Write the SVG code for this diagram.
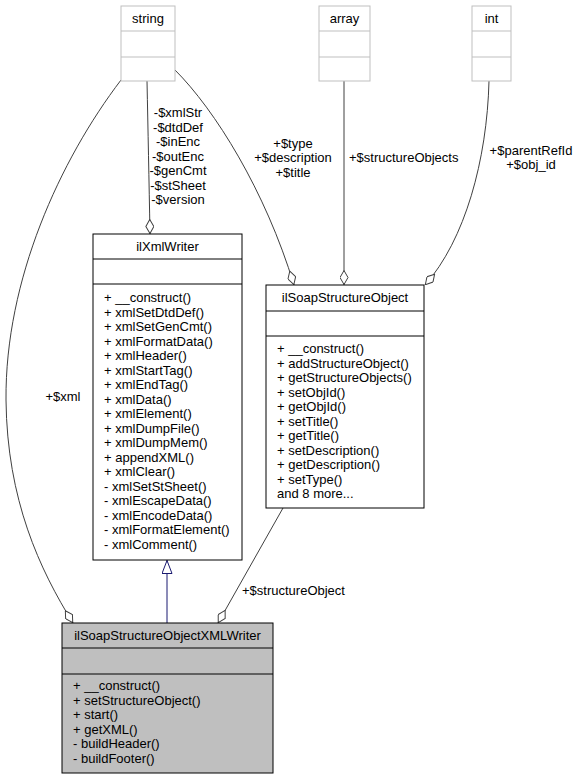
<svg xmlns="http://www.w3.org/2000/svg" width="580" height="779" viewBox="0 0 580 779">
<style>
text{font-family:"Liberation Sans",Arial,sans-serif;font-size:13px;fill:#000}
.c{text-anchor:middle}
.box{fill:#fff;stroke:#000;stroke-width:1}
.ext{fill:#fff;stroke:#bfbfbf;stroke-width:1}
.cur{fill:#bfbfbf;stroke:#000;stroke-width:1}
.e{fill:none;stroke:#404040;stroke-width:1;marker-end:url(#dia)}
.inh{fill:none;stroke:#191970;stroke-width:1;marker-end:url(#tri)}
</style>
<defs>
<marker id="dia" viewBox="0 0 15 9" refX="15" refY="4.5" markerWidth="15" markerHeight="9" markerUnits="userSpaceOnUse" orient="auto">
<path d="M0.5,4.5 L7.5,0.5 L14.5,4.5 L7.5,8.5 Z" fill="#fff" stroke="#404040" stroke-width="1"/>
</marker>
<marker id="tri" viewBox="0 0 14 11" refX="14" refY="5.5" markerWidth="14" markerHeight="11" markerUnits="userSpaceOnUse" orient="auto">
<path d="M0.5,0.5 L13.5,5.5 L0.5,10.5 Z" fill="#fff" stroke="#191970" stroke-width="1"/>
</marker>
</defs>
<g id="connectors">
<path class="e" d="M147,81 C148,130 149,180 150,234"/>
<path class="e" d="M175,70 C215,110 265,190 294,285"/>
<path class="e" d="M344,81 L344,285"/>
<path class="e" d="M489,81 C487,160 465,240 425,285"/>
<path class="e" d="M121,80 C60,160 5,280 6,400 C7,500 40,570 73,623"/>
<path class="e" d="M283,508 L218,623"/>
<path class="inh" d="M167,623 L167,560"/>
<text x="63" y="401" class="c">+$xml</text>
<text x="178" y="117" class="c">-$xmlStr</text>
<text x="178" y="131.5" class="c">-$dtdDef</text>
<text x="178" y="146" class="c">-$inEnc</text>
<text x="178" y="160.5" class="c">-$outEnc</text>
<text x="178" y="175" class="c">-$genCmt</text>
<text x="178" y="189.5" class="c">-$stSheet</text>
<text x="178" y="204" class="c">-$version</text>
<text x="293" y="147.5" class="c">+$type</text>
<text x="293" y="162" class="c">+$description</text>
<text x="293" y="176.5" class="c">+$title</text>
<text x="349" y="162">+$structureObjects</text>
<text x="531" y="154.5" class="c">+$parentRefId</text>
<text x="531" y="169" class="c">+$obj_id</text>
<text x="242" y="595">+$structureObject</text>
</g>
<g id="string">
<rect class="ext" x="121" y="6" width="54" height="75"/>
<path d="M121,31 H175 M121,57 H175" stroke="#bfbfbf"/>
<text x="148" y="23" class="c">string</text>
</g>
<g id="array">
<rect class="ext" x="319" y="6" width="51" height="75"/>
<path d="M319,31 H370 M319,57 H370" stroke="#bfbfbf"/>
<text x="344.5" y="23" class="c">array</text>
</g>
<g id="int">
<rect class="ext" x="472" y="6" width="39" height="75"/>
<path d="M472,31 H511 M472,57 H511" stroke="#bfbfbf"/>
<text x="491.5" y="23" class="c">int</text>
</g>
<g id="ilXmlWriter">
<rect class="box" x="93" y="234" width="149" height="326"/>
<path d="M93,259 H242 M93,284 H242" stroke="#000"/>
<text x="167.5" y="251" class="c">ilXmlWriter</text>
<text x="104" y="302">+ __construct()</text>
<text x="104" y="316.5">+ xmlSetDtdDef()</text>
<text x="104" y="331">+ xmlSetGenCmt()</text>
<text x="104" y="345.5">+ xmlFormatData()</text>
<text x="104" y="360">+ xmlHeader()</text>
<text x="104" y="374.5">+ xmlStartTag()</text>
<text x="104" y="389">+ xmlEndTag()</text>
<text x="104" y="403.5">+ xmlData()</text>
<text x="104" y="418">+ xmlElement()</text>
<text x="104" y="432.5">+ xmlDumpFile()</text>
<text x="104" y="447">+ xmlDumpMem()</text>
<text x="104" y="461.5">+ appendXML()</text>
<text x="104" y="476">+ xmlClear()</text>
<text x="104" y="490.5">- xmlSetStSheet()</text>
<text x="104" y="505">- xmlEscapeData()</text>
<text x="104" y="519.5">- xmlEncodeData()</text>
<text x="104" y="534">- xmlFormatElement()</text>
<text x="104" y="548.5">- xmlComment()</text>
</g>
<g id="ilSoapStructureObject">
<rect class="box" x="266" y="285" width="158" height="223"/>
<path d="M266,311 H424 M266,336 H424" stroke="#000"/>
<text x="345" y="302" class="c">ilSoapStructureObject</text>
<text x="277" y="353">+ __construct()</text>
<text x="277" y="367.5">+ addStructureObject()</text>
<text x="277" y="382">+ getStructureObjects()</text>
<text x="277" y="396.5">+ setObjId()</text>
<text x="277" y="411">+ getObjId()</text>
<text x="277" y="425.5">+ setTitle()</text>
<text x="277" y="440">+ getTitle()</text>
<text x="277" y="454.5">+ setDescription()</text>
<text x="277" y="469">+ getDescription()</text>
<text x="277" y="483.5">+ setType()</text>
<text x="277" y="498">and 8 more...</text>
</g>
<g id="ilSoapStructureObjectXMLWriter">
<rect class="cur" x="62" y="623" width="211" height="150"/>
<path d="M62,648 H273 M62,674 H273" stroke="#000"/>
<text x="167.5" y="640" class="c">ilSoapStructureObjectXMLWriter</text>
<text x="73" y="690">+ __construct()</text>
<text x="73" y="704.5">+ setStructureObject()</text>
<text x="73" y="719">+ start()</text>
<text x="73" y="733.5">+ getXML()</text>
<text x="73" y="748">- buildHeader()</text>
<text x="73" y="762.5">- buildFooter()</text>
</g>
</svg>
